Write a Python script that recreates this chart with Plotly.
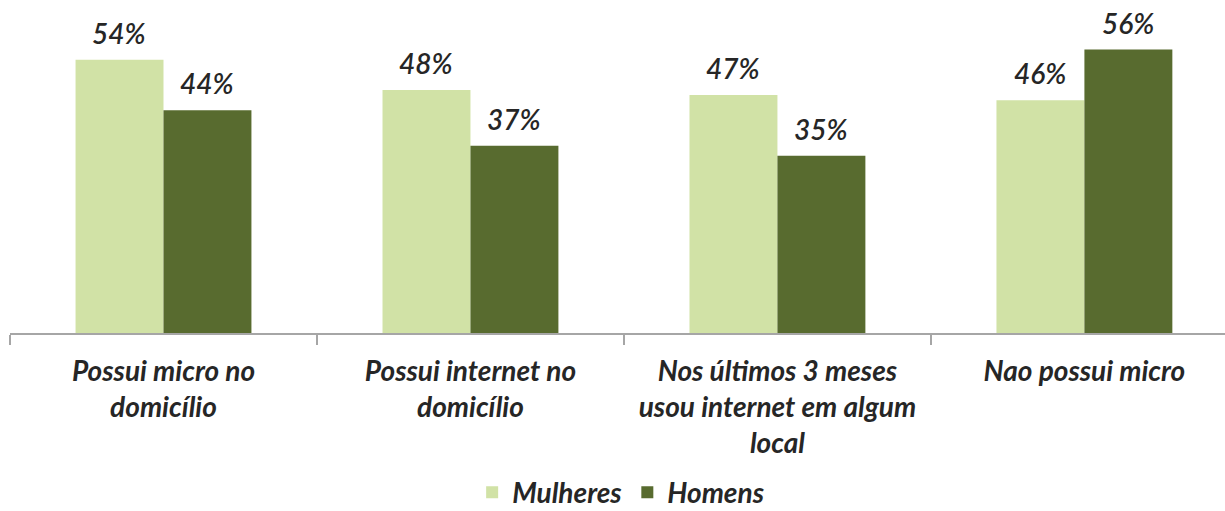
import plotly.graph_objects as go

# Survey categories (line breaks as shown under the axis)
categories = [
    "Possui micro no<br>domicílio",
    "Possui internet no<br>domicílio",
    "Nos últimos 3 meses<br>usou internet em algum<br>local",
    "Nao possui micro",
]
mulheres = [54, 48, 47, 46]
homens = [44, 37, 35, 56]

series = [
    ("Mulheres", mulheres, "#d1e2a6"),
    ("Homens", homens, "#586b2f"),
]

FONT = "Lato"
TEXT_COLOR = "#262626"
BAR_PX = 88  # rendered width of one bar, used to centre the value labels

fig = go.Figure()
for name, vals, color in series:
    fig.add_trace(go.Bar(
        x=categories,
        y=vals,
        name=name,
        marker=dict(color=color, line=dict(width=0)),
    ))

# Value labels above each bar
annotations = []
for i, (name, vals, color) in enumerate(series):
    shift = (i - 0.5) * BAR_PX
    for cat, v in zip(categories, vals):
        annotations.append(dict(
            x=cat, y=v, xref="x", yref="y",
            text=f"{v}%", showarrow=False,
            xanchor="center", yanchor="bottom",
            xshift=shift, yshift=8,
            font=dict(family=FONT, size=28, color=TEXT_COLOR, style="italic", weight=600),
        ))

fig.update_layout(
    width=1225,
    height=511,
    margin=dict(l=10, r=0, t=5, b=178),
    paper_bgcolor="white",
    plot_bgcolor="white",
    barmode="group",
    bargap=0.427,
    bargroupgap=0,
    font=dict(family=FONT, color=TEXT_COLOR),
    annotations=annotations,
    showlegend=True,
    legend=dict(
        orientation="h",
        x=0.503, xanchor="center",
        xref="paper",
        yref="container",
        y=0.036, yanchor="middle",
        font=dict(family=FONT, size=28, color=TEXT_COLOR, style="italic", weight="bold"),
        traceorder="normal",
    ),
    xaxis=dict(
        range=[-0.5, 3.458],
        showline=True,
        linecolor="#a6a6a6",
        linewidth=2,
        ticks="outside",
        tickson="boundaries",
        ticklen=10,
        tickcolor="#a6a6a6",
        tickwidth=1.5,
        ticklabelstandoff=12,
        showgrid=False,
        tickfont=dict(family=FONT, size=28, color=TEXT_COLOR, style="italic", weight="bold"),
        fixedrange=True,
    ),
    yaxis=dict(
        range=[0, 64.8],
        visible=False,
        showgrid=False,
        zeroline=False,
    ),
)

fig.write_html("out.html")
